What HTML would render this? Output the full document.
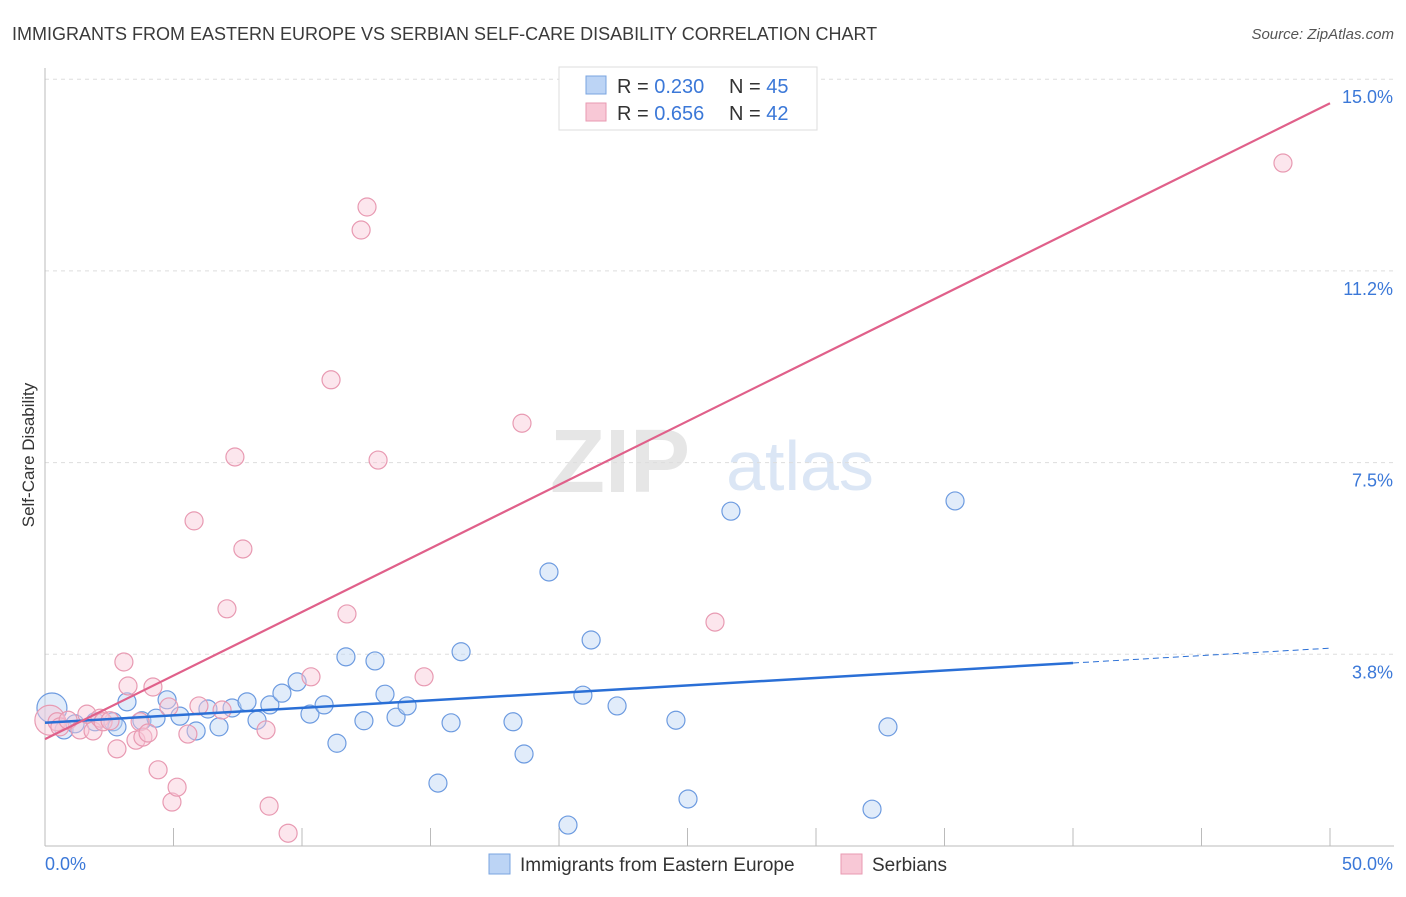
<!DOCTYPE html>
<html><head><meta charset="utf-8">
<style>
body{margin:0;background:#fff;font-family:"Liberation Sans",sans-serif;}
svg text{font-family:"Liberation Sans",sans-serif;}
</style></head>
<body>
<svg width="1406" height="892" id="chart">
<text x="12" y="40" font-size="18" fill="#3a3a3a">IMMIGRANTS FROM EASTERN EUROPE VS SERBIAN SELF-CARE DISABILITY CORRELATION CHART</text>
<text x="1394" y="39" font-size="15" fill="#555" font-style="italic" text-anchor="end">Source: ZipAtlas.com</text>
<text x="620" y="492" font-size="90" fill="#e6e6e6" font-family="Liberation Serif" text-anchor="middle" font-weight="bold">ZIP</text>
<text x="800" y="490" font-size="70" fill="#dbe6f5" text-anchor="middle">atlas</text>
<text x="34" y="455" font-size="17" fill="#333" transform="rotate(-90 34 455)" text-anchor="middle">Self-Care Disability</text>
<g id="grid"></g><g id="axes"></g><g id="pts"></g><g id="lines"></g>
<g>
<rect x="559" y="67" width="258" height="63" fill="#fff" stroke="#ddd"/>
<rect x="586" y="76" width="20" height="18" fill="#bcd4f5" stroke="#7aa4e0"/>
<text x="617" y="93" font-size="20" fill="#333">R = <tspan fill="#3b78d8">0.230</tspan><tspan x="729">N = </tspan><tspan fill="#3b78d8">45</tspan></text>
<rect x="586" y="103" width="20" height="18" fill="#f8c8d6" stroke="#e89ab2"/>
<text x="617" y="120" font-size="20" fill="#333">R = <tspan fill="#3b78d8">0.656</tspan><tspan x="729">N = </tspan><tspan fill="#3b78d8">42</tspan></text>
</g>
<g>
<rect x="489" y="854" width="21" height="20" fill="#bcd4f5" stroke="#7aa4e0"/>
<text x="520" y="871" font-size="19" fill="#333">Immigrants from Eastern Europe</text>
<rect x="841" y="854" width="21" height="20" fill="#f8c8d6" stroke="#e89ab2"/>
<text x="872" y="871" font-size="19" fill="#333">Serbians</text>
</g>
</svg>
<script>
const yTicks=[3.75,7.5,11.25,15.0];
const yTickLabels=["3.8%","7.5%","11.2%","15.0%"];
const xTickLabels=["0.0%","50.0%"];
const blueX=[0.27,0.74,1.17,1.95,2.65,2.80,3.19,3.77,4.32,4.75,5.25,5.88,6.34,6.77,7.28,7.86,8.25,8.75,9.22,9.81,10.31,10.86,11.36,11.71,12.41,12.84,13.23,13.66,14.09,15.29,15.80,16.19,18.21,18.64,19.61,20.35,20.93,21.25,22.26,24.55,25.02,26.69,32.18,32.80,35.41];
const blueY=[2.70,2.27,2.39,2.43,2.43,2.33,2.82,2.45,2.50,2.86,2.54,2.25,2.68,2.33,2.70,2.82,2.46,2.76,2.99,3.21,2.58,2.76,2.01,3.70,2.45,3.62,2.97,2.52,2.74,1.23,2.41,3.80,2.43,1.80,5.36,0.41,2.95,4.03,2.74,2.46,0.92,6.55,0.72,2.33,6.75];
const pinkX=[0.19,0.47,0.58,0.9,1.36,1.63,1.87,2.14,2.26,2.53,2.80,3.07,3.23,3.54,3.70,3.81,4.01,4.20,4.40,4.82,4.94,5.14,5.56,5.80,5.99,6.89,7.08,7.39,7.70,8.60,8.72,9.46,10.35,11.13,11.75,12.30,12.53,12.96,14.75,18.56,26.07,48.17];
const pinkY=[2.46,2.43,2.33,2.46,2.27,2.58,2.25,2.50,2.43,2.45,1.90,3.60,3.13,2.07,2.43,2.13,2.21,3.11,1.49,2.72,0.86,1.15,2.19,6.36,2.74,2.66,4.64,7.61,5.81,2.27,0.78,0.25,3.31,9.12,4.54,12.05,12.50,7.55,3.31,8.27,4.38,13.36];
const blueLine=[[0,2.41],[40,3.58],[50,3.87]];
const pinkLine=[[0,2.09],[50,14.53]];
const NS="http://www.w3.org/2000/svg";
const X=v=>45+v/50*1285, Y=v=>846-v/3.75*191.7;
function mk(t,a,p){const e=document.createElementNS(NS,t);for(const k in a)e.setAttribute(k,a[k]);document.getElementById(p).appendChild(e);return e;}
yTicks.forEach((t,i)=>{
 const g=mk('line',{x1:45,x2:1394,y1:Y(t),y2:Y(t),stroke:'#ddd','stroke-dasharray':'4,4'},'grid');
 
 
 const l=mk('text',{x:1393,y:Y(t)+24,'font-size':18,fill:'#3b78d8','text-anchor':'end'},'axes');
 l.textContent=yTickLabels[i];
 
 
});
mk('line',{x1:45,x2:45,y1:68,y2:846,stroke:'#bbb'},'axes');
mk('line',{x1:45,x2:1394,y1:846,y2:846,stroke:'#bbb'},'axes');
for(let i=1;i<=10;i++){const t=mk('line',{x1:X(i*5),x2:X(i*5),y1:828,y2:846,stroke:'#bbb'},'axes');
 
 }
[[0,45,'start'],[1,1393,'end']].forEach(([i,x,a])=>{const l=mk('text',{x:x,y:870,'font-size':18,fill:'#3b78d8','text-anchor':a},'axes');l.textContent=xTickLabels[i];
 
 });
function pts(xs,ys,fill,stroke,name){xs.forEach((x,i)=>{const r=(i==0)?15:9;
 const c=mk('circle',{cx:X(x),cy:Y(ys[i]),r:r,fill:fill,'fill-opacity':0.45,stroke:stroke,'stroke-width':1.2},'pts');
 
 });}
pts(blueX,blueY,'#bcd4f5','#6d9be0','point-eastern-europe');
pts(pinkX,pinkY,'#f8c8d6','#e89ab2','point-serbians');
let b=mk('line',{x1:X(blueLine[0][0]),y1:Y(blueLine[0][1]),x2:X(blueLine[1][0]),y2:Y(blueLine[1][1]),stroke:'#2a6fd6','stroke-width':2.5},'lines');


let bd=mk('line',{x1:X(blueLine[1][0]),y1:Y(blueLine[1][1]),x2:X(blueLine[2][0]),y2:Y(blueLine[2][1]),stroke:'#2a6fd6','stroke-width':1,'stroke-dasharray':'6,4'},'lines');


let p=mk('line',{x1:X(pinkLine[0][0]),y1:Y(pinkLine[0][1]),x2:X(pinkLine[1][0]),y2:Y(pinkLine[1][1]),stroke:'#e0608a','stroke-width':2.2},'lines');


</script>
</body></html>
